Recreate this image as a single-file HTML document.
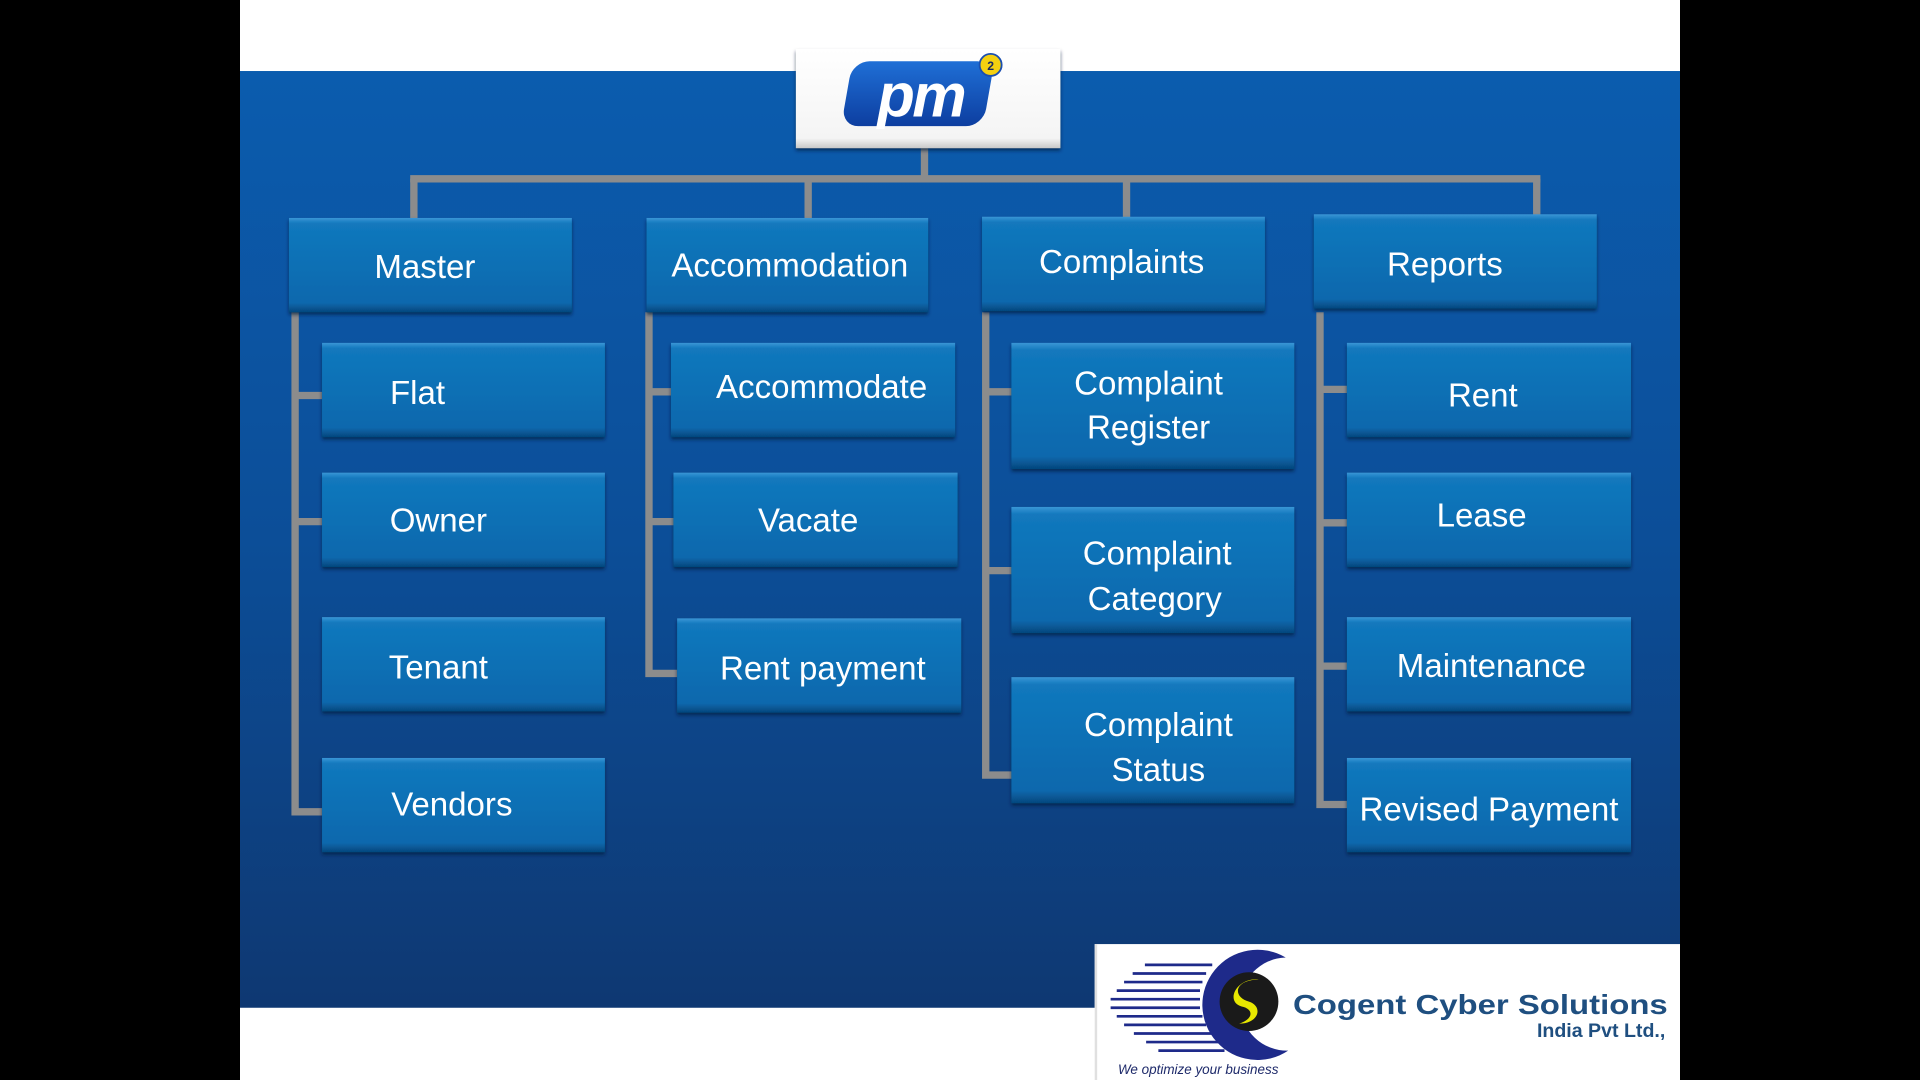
<!DOCTYPE html>
<html><head><meta charset="utf-8"><style>
html,body{margin:0;padding:0;background:#000;width:1920px;height:1080px;overflow:hidden}
svg{display:block}
text{font-family:"Liberation Sans",sans-serif}
</style></head><body>
<svg width="1920" height="1080" viewBox="0 0 1568 882" preserveAspectRatio="none" xmlns="http://www.w3.org/2000/svg">
<defs>
<linearGradient id="bg" x1="0" y1="0" x2="0" y2="1">
<stop offset="0" stop-color="#0b5cae"/><stop offset="0.5" stop-color="#0c4e98"/><stop offset="1" stop-color="#0e3872"/>
</linearGradient>
<linearGradient id="bx" x1="0" y1="0" x2="0" y2="1">
<stop offset="0" stop-color="#3a96d6"/><stop offset="0.06" stop-color="#1278bd"/><stop offset="0.9" stop-color="#0868ad"/><stop offset="1" stop-color="#06477d"/>
</linearGradient>
<linearGradient id="lg" x1="0" y1="0" x2="0" y2="1">
<stop offset="0" stop-color="#ffffff"/><stop offset="0.9" stop-color="#f4f4f4"/><stop offset="1" stop-color="#c8c8c8"/>
</linearGradient>
<linearGradient id="pmg" x1="0" y1="0" x2="0" y2="1">
<stop offset="0" stop-color="#1f6fd6"/><stop offset="1" stop-color="#0d3ea0"/>
</linearGradient>
<filter id="sh" x="-10%" y="-10%" width="120%" height="130%"><feDropShadow dx="0" dy="2" stdDeviation="1.5" flood-color="#021a3a" flood-opacity="0.7"/></filter>
</defs>
<rect x="0" y="0" width="1568" height="882" fill="#000"/>
<rect x="196" y="0" width="1176" height="882" fill="#fff"/>
<rect x="196" y="58" width="1176" height="765" fill="url(#bg)"/>

<g stroke="#8c8c8c" stroke-width="6" fill="none">
<line x1="755" y1="121" x2="755" y2="146"/>
<line x1="335" y1="146" x2="1258" y2="146"/>
<line x1="338" y1="146" x2="338" y2="178"/>
<line x1="660" y1="146" x2="660" y2="178"/>
<line x1="920" y1="146" x2="920" y2="178"/>
<line x1="1255" y1="146" x2="1255" y2="176"/>
<polyline points="241,255 241,663 263,663"/>
<line x1="241" y1="323" x2="263" y2="323"/>
<line x1="241" y1="426" x2="263" y2="426"/>
<polyline points="530,255 530,550 553,550"/>
<line x1="530" y1="320" x2="548" y2="320"/>
<line x1="530" y1="426" x2="550" y2="426"/>
<polyline points="805,255 805,633 826,633"/>
<line x1="805" y1="320" x2="826" y2="320"/>
<line x1="805" y1="466" x2="826" y2="466"/>
<polyline points="1078,255 1078,657 1100,657"/>
<line x1="1078" y1="318" x2="1100" y2="318"/>
<line x1="1078" y1="427" x2="1100" y2="427"/>
<line x1="1078" y1="544" x2="1100" y2="544"/>
</g>

<rect x="650" y="40" width="216" height="81" fill="url(#lg)" filter="url(#sh)"/>
<g transform="skewX(-10)">
<rect x="705" y="50" width="116" height="53" rx="14" fill="url(#pmg)"/>
</g>
<text x="752" y="95" text-anchor="middle" font-size="50" font-weight="bold" font-style="italic" fill="#fff" letter-spacing="-2">pm</text>
<circle cx="809" cy="53" r="9" fill="#f4d010" stroke="#1a4fb0" stroke-width="1.5"/>
<text x="809" y="57" text-anchor="middle" font-size="10" font-weight="bold" fill="#1a2a60">2</text>

<g filter="url(#sh)" fill="url(#bx)">
<rect x="236" y="178" width="231" height="77"/>
<rect x="528" y="178" width="230" height="77"/>
<rect x="802" y="177" width="231" height="77"/>
<rect x="1073" y="175" width="231" height="77"/>
<rect x="263" y="280" width="231" height="77"/>
<rect x="263" y="386" width="231" height="77"/>
<rect x="263" y="504" width="231" height="77"/>
<rect x="263" y="619" width="231" height="77"/>
<rect x="548" y="280" width="232" height="77"/>
<rect x="550" y="386" width="232" height="77"/>
<rect x="553" y="505" width="232" height="77"/>
<rect x="826" y="280" width="231" height="103"/>
<rect x="826" y="414" width="231" height="103"/>
<rect x="826" y="553" width="231" height="103"/>
<rect x="1100" y="280" width="232" height="77"/>
<rect x="1100" y="386" width="232" height="77"/>
<rect x="1100" y="504" width="232" height="77"/>
<rect x="1100" y="619" width="232" height="77"/>
</g>
<g fill="#fff" font-size="27" text-anchor="middle">
<text x="347" y="227">Master</text>
<text x="645" y="226">Accommodation</text>
<text x="916" y="223">Complaints</text>
<text x="1180" y="225">Reports</text>
<text x="341" y="330">Flat</text>
<text x="358" y="434">Owner</text>
<text x="358" y="554">Tenant</text>
<text x="369" y="666">Vendors</text>
<text x="671" y="325">Accommodate</text>
<text x="660" y="434">Vacate</text>
<text x="672" y="555">Rent payment</text>
<text x="938" y="322">Complaint</text>
<text x="938" y="358">Register</text>
<text x="945" y="461">Complaint</text>
<text x="943" y="498">Category</text>
<text x="946" y="601">Complaint</text>
<text x="946" y="638">Status</text>
<text x="1211" y="332">Rent</text>
<text x="1210" y="430">Lease</text>
<text x="1218" y="553">Maintenance</text>
<text x="1216" y="670">Revised Payment</text>
</g>

<rect x="894" y="771" width="478" height="111" fill="#fff"/>
<rect x="894" y="771" width="2" height="111" fill="#e0e0e0"/>
<g stroke="#1e2a8a" stroke-width="2.2">
<line x1="935" y1="788" x2="990" y2="788"/>
<line x1="925" y1="795" x2="985" y2="795"/>
<line x1="918" y1="802" x2="982" y2="802"/>
<line x1="912" y1="809" x2="980" y2="809"/>
<line x1="907" y1="816" x2="980" y2="816"/>
<line x1="907" y1="823" x2="980" y2="823"/>
<line x1="912" y1="830" x2="982" y2="830"/>
<line x1="918" y1="837" x2="985" y2="837"/>
<line x1="926" y1="844" x2="990" y2="844"/>
<line x1="936" y1="851" x2="995" y2="851"/>
<line x1="946" y1="858" x2="1000" y2="858"/>
</g>
<path d="M1050,782 A45,45 0 1,0 1052,858 A36,36 0 1,1 1050,782 Z" fill="#1e2a8a"/>
<circle cx="1020" cy="818" r="24" fill="#1a1a1a"/>
<path d="M1028,800 C1008,800 1006,814 1020,818 C1032,822 1028,836 1012,836 C1024,832 1024,824 1014,822 C1000,818 1010,798 1028,800 Z" fill="#e8e800"/>
<text x="1056" y="828" font-size="23" font-weight="bold" fill="#1f4f80" textLength="306" lengthAdjust="spacingAndGlyphs">Cogent Cyber Solutions</text>
<text x="1360" y="847" text-anchor="end" font-size="16" font-weight="bold" fill="#1f4f80">India Pvt Ltd.,</text>
<text x="913" y="877" font-size="11" font-style="italic" font-family="Liberation Serif,serif" fill="#1e2a6a">We optimize your business</text>
</svg>
</body></html>
